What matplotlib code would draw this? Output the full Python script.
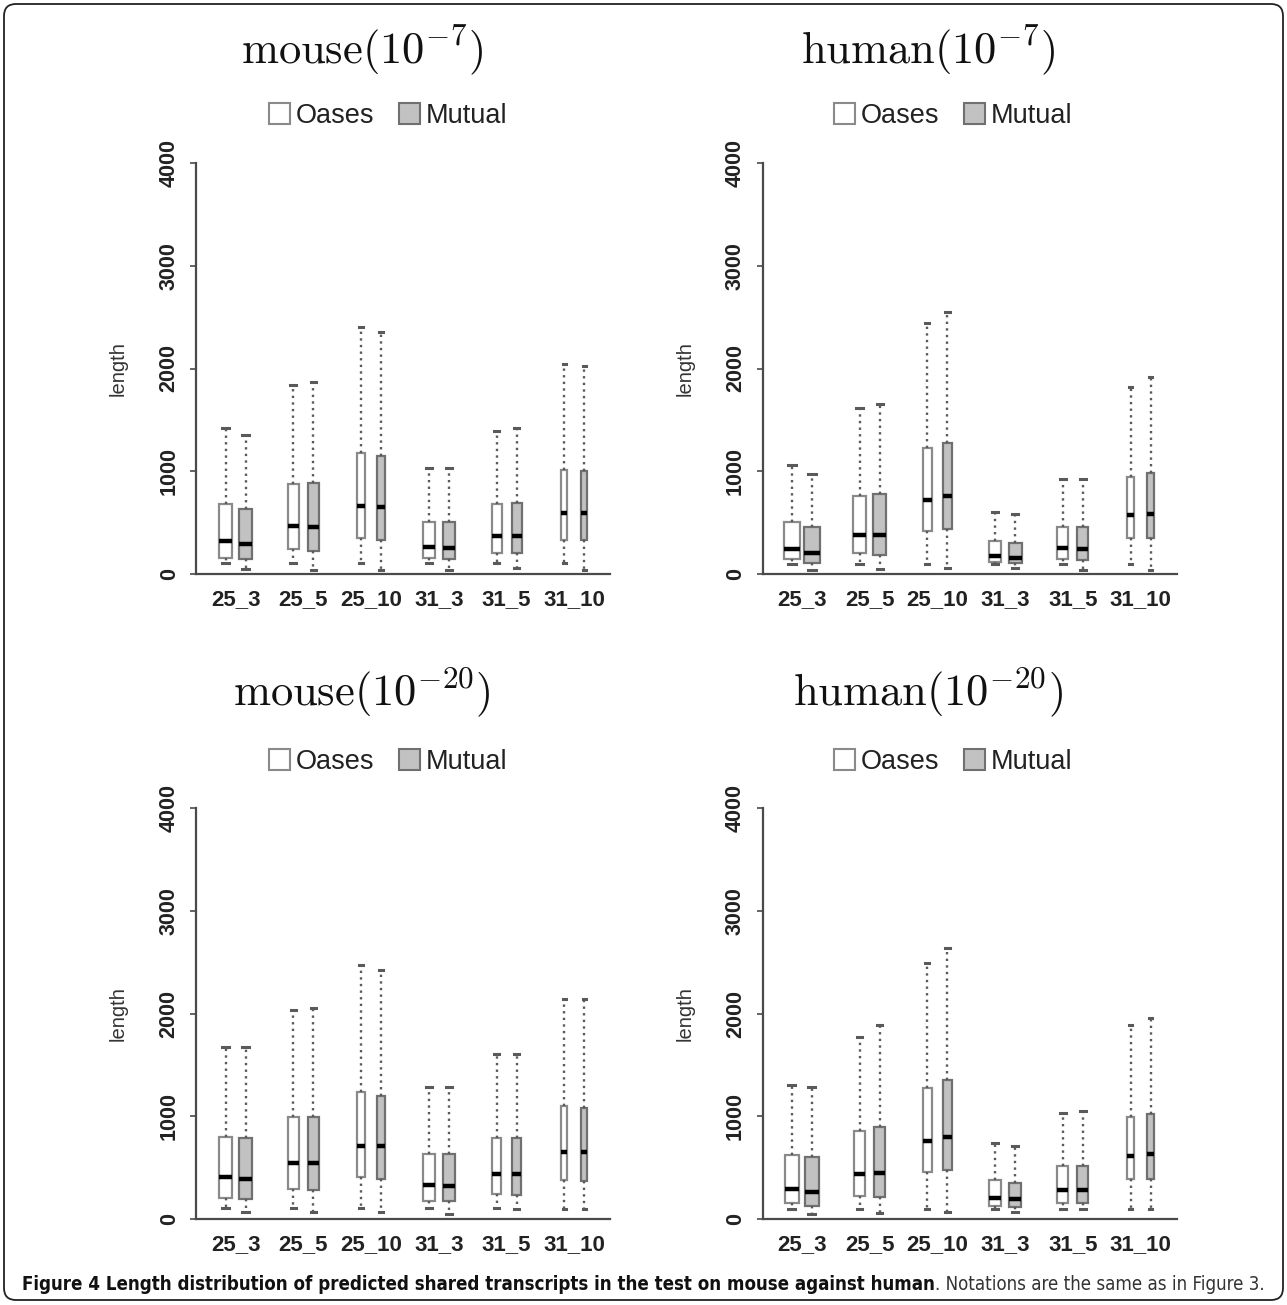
import matplotlib
matplotlib.use("Agg")
import matplotlib.pyplot as plt
from matplotlib.patches import Patch, FancyBboxPatch
from matplotlib.transforms import IdentityTransform
from matplotlib import font_manager
from matplotlib.font_manager import FontProperties

# categories (k-mer _ coverage)
categories = ["25_3", "25_5", "25_10", "31_3", "31_5", "31_10"]
series = ["Oases", "Mutual"]

# box stats: (whisker low, q1, median, q3, whisker high)
mouse7_oases = [(104, 159, 324, 678, 1418), (104, 240, 464, 879, 1836), (104, 347, 665, 1174, 2407),
                (104, 159, 263, 506, 1035), (104, 208, 370, 678, 1395), (104, 331, 594, 1012, 2044)]
mouse7_mutual = [(45, 146, 295, 636, 1353), (39, 227, 454, 889, 1872), (39, 331, 652, 1148, 2359),
                 (39, 143, 253, 506, 1035), (55, 201, 370, 694, 1424), (39, 331, 594, 1002, 2024)]
human7_oases = [(97, 143, 240, 509, 1061), (97, 201, 380, 762, 1612), (97, 422, 720, 1229, 2446),
                (97, 114, 175, 321, 606), (97, 146, 250, 460, 925), (97, 353, 574, 941, 1817)]
human7_mutual = [(39, 110, 201, 460, 973), (45, 182, 376, 779, 1655), (55, 435, 759, 1278, 2553),
                 (62, 110, 159, 305, 584), (39, 136, 243, 460, 925), (39, 353, 584, 980, 1914)]
mouse20_oases = [(104, 208, 405, 801, 1677), (104, 289, 542, 996, 2034), (104, 405, 714, 1233, 2472),
                 (104, 178, 328, 633, 1288), (104, 240, 438, 785, 1606), (94, 379, 649, 1103, 2138)]
mouse20_mutual = [(71, 195, 389, 785, 1671), (71, 282, 548, 996, 2057), (71, 389, 707, 1200, 2423),
                  (49, 178, 321, 630, 1288), (94, 234, 438, 785, 1606), (94, 373, 649, 1077, 2138)]
human20_oases = [(94, 153, 289, 623, 1304), (94, 227, 435, 860, 1775), (94, 454, 762, 1272, 2495),
                 (94, 130, 201, 379, 737), (94, 153, 282, 519, 1029), (94, 389, 613, 990, 1888)]
human20_mutual = [(49, 130, 266, 607, 1288), (55, 217, 444, 892, 1888), (71, 477, 801, 1353, 2634),
                  (71, 120, 191, 353, 710), (94, 153, 282, 519, 1051), (94, 389, 630, 1022, 1953)]

yticks = [0, 1000, 2000, 3000, 4000]

# box widths (varwidth style), in group units
widths_mouse7 = [0.19, 0.17, 0.11, 0.18, 0.145, 0.09]
widths_human7 = [0.23, 0.18, 0.13, 0.19, 0.16, 0.105]
widths_mouse20 = [0.19, 0.16, 0.11, 0.17, 0.14, 0.09]
widths_human20 = [0.2, 0.17, 0.13, 0.18, 0.16, 0.1]

caption_bold = "Figure 4 Length distribution of predicted shared transcripts in the test on mouse against human"
caption_rest = ". Notations are the same as in Figure 3."

W, H = 1287, 1305
plt.rcParams["mathtext.fontset"] = "cm"
plt.rcParams["font.family"] = ["Liberation Sans", "DejaVu Sans"]
fig = plt.figure(figsize=(W / 100, H / 100), dpi=100)

OASES_FACE, OASES_EDGE = "white", "#8a8a8a"
MUT_FACE, MUT_EDGE = "#c2c2c2", "#707070"
AX_COL = "#4a4a4a"
off = 0.148

panels = [
    (r"$\mathrm{mouse}(10^{-7})$", mouse7_oases, mouse7_mutual, widths_mouse7, 196.3, 574, 362, 50, 388, 116),
    (r"$\mathrm{human}(10^{-7})$", human7_oases, human7_mutual, widths_human7, 762.5, 574, 928, 50, 953, 116),
    (r"$\mathrm{mouse}(10^{-20})$", mouse20_oases, mouse20_mutual, widths_mouse20, 196.3, 1219, 362, 692, 388, 762),
    (r"$\mathrm{human}(10^{-20})$", human20_oases, human20_mutual, widths_human20, 762.5, 1219, 928, 692, 953, 762),
]


def stats_of(rows):
    return [dict(whislo=r[0], q1=r[1], med=r[2], q3=r[3], whishi=r[4], fliers=[]) for r in rows]


for title, oases, mutual, widths, left_px, base_px, tx, ty, lx, ly in panels:
    ax = fig.add_axes([left_px / W, 1 - base_px / H, 414 / W, 411 / H])
    groups = list(range(len(categories)))
    for rows, face, edge, sign in [(oases, OASES_FACE, OASES_EDGE, -1), (mutual, MUT_FACE, MUT_EDGE, 1)]:
        ax.bxp(stats_of(rows), positions=[g + sign * off for g in groups], widths=widths,
               capwidths=[w * 0.5 for w in widths], patch_artist=True, showfliers=False,
               manage_ticks=False,
               boxprops=dict(facecolor=face, edgecolor=edge, linewidth=1.6),
               medianprops=dict(color="black", linewidth=3.2, solid_capstyle="butt"),
               whiskerprops=dict(color="#5a5a5a", linestyle=(0, (1, 1.8)), linewidth=1.7),
               capprops=dict(color="#5a5a5a", linewidth=2.2))
    ax.set_xlim(-0.58, 5.53)
    ax.set_ylim(0, 4000)
    ax.set_xticks(groups)
    ax.set_xticklabels(categories, fontsize=16, fontweight="bold", color="#222222")
    ax.set_yticks(yticks)
    ax.set_yticklabels([str(v) for v in yticks], fontsize=15.5, fontweight="bold", color="#222222",
                       rotation=90, va="center")
    ax.tick_params(axis="x", length=0, pad=11)
    ax.tick_params(axis="y", length=4, width=1.2, color=AX_COL, pad=8)
    for s in ["top", "right"]:
        ax.spines[s].set_visible(False)
    for s in ["left", "bottom"]:
        ax.spines[s].set_color(AX_COL)
        ax.spines[s].set_linewidth(1.6)
    ax.set_ylabel("length", fontsize=14.5, color="#333333")
    ax.yaxis.set_label_coords(-0.165, 0.5)

    handles = [Patch(facecolor=OASES_FACE, edgecolor=OASES_EDGE, linewidth=1.5),
               Patch(facecolor=MUT_FACE, edgecolor=MUT_EDGE, linewidth=1.5)]
    ax.legend(handles, series, loc="center", bbox_to_anchor=(lx / W, 1 - ly / H),
              bbox_transform=fig.transFigure, ncol=2, frameon=False, fontsize=19.5,
              handlelength=0.8, handleheight=0.8, handletextpad=0.2, columnspacing=0.9,
              borderpad=0, labelcolor="#222222")

    fig.text(tx / W, 1 - ty / H, title, ha="center", va="center", fontsize=32, color="#111111")


# caption in a narrow face if one is installed
def find_narrow(bold):
    for f in font_manager.fontManager.ttflist:
        fn = f.fname.lower()
        if ("condensed" in fn or "narrow" in fn) and "italic" not in fn and "oblique" not in fn:
            w = f.weight if isinstance(f.weight, int) else (700 if "bold" in str(f.weight) else 400)
            if (bold and w == 700) or (not bold and w == 400):
                return FontProperties(fname=f.fname)
    return None


fp_bold = find_narrow(True)
fp_reg = find_narrow(False)
if fp_bold is None or fp_reg is None:
    fp_bold = FontProperties(family="Liberation Sans", weight="bold")
    fp_reg = FontProperties(family="Liberation Sans")

renderer = fig.canvas.get_renderer()
fp_bold.set_size(10)
fp_reg.set_size(10)
probe_b = fig.text(0, 0, caption_bold, fontproperties=fp_bold)
probe_r = fig.text(0, 0, caption_rest, fontproperties=fp_reg)
w10 = probe_b.get_window_extent(renderer).width + probe_r.get_window_extent(renderer).width
probe_b.remove()
probe_r.remove()
cap_size = min(10 * 1243 / w10, 17)
fp_bold.set_size(cap_size)
fp_reg.set_size(cap_size)
cap_y = 1 - 1284 / H
tb = fig.text(22 / W, cap_y, caption_bold, fontproperties=fp_bold, va="center", color="#111111")
bw = tb.get_window_extent(renderer).width
fig.text((22 + bw) / W, cap_y, caption_rest, fontproperties=fp_reg, va="center", color="#333333")

# rounded frame round the whole figure
frame = FancyBboxPatch((4, 5), W - 8, H - 9, boxstyle="round,pad=0,rounding_size=12",
                       transform=IdentityTransform(), fill=False, edgecolor="#222222", linewidth=1.3)
fig.add_artist(frame)

fig.savefig("out.png", dpi=100)
